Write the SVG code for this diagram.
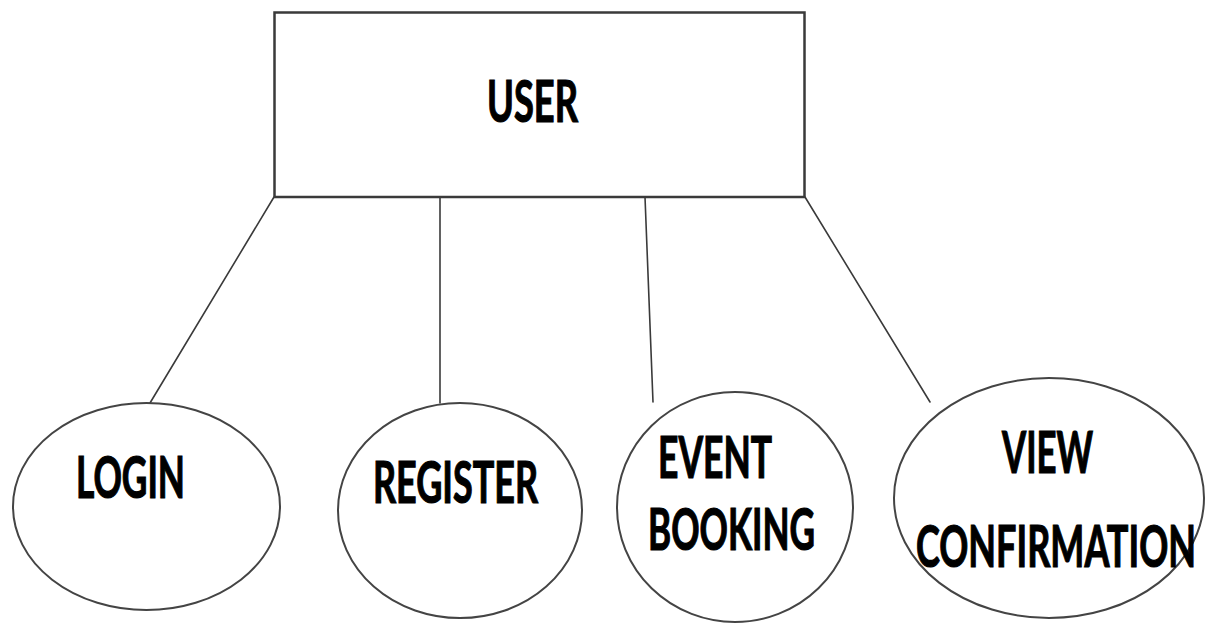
<svg xmlns="http://www.w3.org/2000/svg" width="1211" height="624" viewBox="0 0 1211 624">
  <style>
    .bg { fill: #ffffff; }
    .box { fill: #ffffff; stroke: #3a3a3a; stroke-width: 2.5; }
    .oval { fill: #ffffff; stroke: #444444; stroke-width: 2; }
    .link { fill: none; stroke: #3a3a3a; stroke-width: 1.6; stroke-linecap: round; }
    .label { font-family: Lato, "Open Sans", "Liberation Sans", sans-serif; font-weight: bold; font-size: 57px; fill: #000000; stroke: #000000; stroke-width: 1.2; }
  </style>
  <rect class="bg" x="0" y="0" width="1211" height="624"/>

  <!-- lines from the user box down to each function -->
  <g id="connectors">
    <line class="link" x1="274" y1="197" x2="150" y2="403"/>
    <line class="link" x1="440" y1="197" x2="440" y2="403"/>
    <line class="link" x1="645" y1="197" x2="653" y2="402"/>
    <line class="link" x1="805" y1="197" x2="930" y2="402"/>
  </g>

  <g id="user">
    <rect class="box" x="274.5" y="12.5" width="530" height="184.5"/>
    <text class="label" x="487" y="122" textLength="91" lengthAdjust="spacingAndGlyphs">USER</text>
  </g>

  <g id="login">
    <ellipse class="oval" cx="146.5" cy="506.5" rx="133.5" ry="103.5"/>
    <text class="label" x="76" y="498" textLength="109" lengthAdjust="spacingAndGlyphs">LOGIN</text>
  </g>

  <g id="register">
    <ellipse class="oval" cx="460" cy="510.5" rx="122" ry="107.5"/>
    <text class="label" x="373" y="503" textLength="165" lengthAdjust="spacingAndGlyphs">REGISTER</text>
  </g>

  <g id="event-booking">
    <ellipse class="oval" cx="735" cy="507" rx="118" ry="115"/>
    <text class="label" x="658" y="478" textLength="114" lengthAdjust="spacingAndGlyphs">EVENT</text>
    <text class="label" x="648" y="550" textLength="167" lengthAdjust="spacingAndGlyphs">BOOKING</text>
  </g>

  <g id="view-confirmation">
    <ellipse class="oval" cx="1049" cy="498" rx="155" ry="120"/>
    <text class="label" x="1002" y="473" textLength="91" lengthAdjust="spacingAndGlyphs">VIEW</text>
    <text class="label" x="916" y="567" textLength="280" lengthAdjust="spacingAndGlyphs">CONFIRMATION</text>
  </g>
</svg>
